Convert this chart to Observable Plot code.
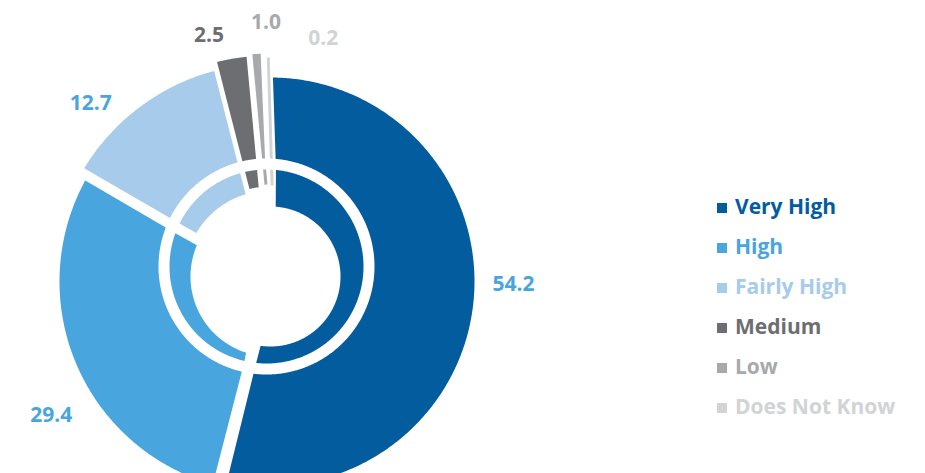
<!DOCTYPE html>
<html>
<head>
<meta charset="utf-8">
<script src="https://cdn.jsdelivr.net/npm/d3@7"></script>
<script src="https://cdn.jsdelivr.net/npm/@observablehq/plot@0.6"></script>
<style>
  html, body { margin: 0; padding: 0; background: #fff; }
  #wrap { position: relative; width: 925px; height: 473px; overflow: hidden; }
  #legend { position: absolute; left: 717px; top: 186px; font-family: "Open Sans", sans-serif; font-weight: 700; font-size: 21px; }
  #legend .row { height: 40px; line-height: 40px; white-space: nowrap; }
  #legend .sw { display: inline-block; width: 10px; height: 10px; margin-right: 8px; vertical-align: 1px; }
</style>
</head>
<body>
<div id="wrap">
  <div id="chart"></div>
  <div id="legend"></div>
</div>
<script>
// ---- data ----
const categories = ["Very High", "High", "Fairly High", "Medium", "Low", "Does Not Know"];
const values = [54.2, 29.4, 12.7, 2.5, 1.0, 0.2];
const colors = ["#035c9e", "#48a5dd", "#a6cbeb", "#6d6e71", "#a7a9ac", "#d1d3d4"];
const labelColors = ["#48a5dd", "#48a5dd", "#48a5dd", "#6d6e71", "#a7a9ac", "#d1d3d4"];

// ---- layout / style ----
const W = 925, H = 473;
const C = [270, 281];            // centre of the slices (px)
const ringC = [266, 266];        // centre of the white separating ring
const ringOuter = 108, ringInner = 97;
const holeC = [270, 276];
const outerR = [204, 211, 218, 226, 228, 224];   // outer radius of each outer slice
const holeR = [70, 80, 86, 90, 92, 91];           // inner radius of each inner slice
const gapAfter = [13, 10, 5, 6, 6, 12];           // white gap after each slice (px)
const minW = 3;
const startDeg = -1;
const labelNudge = [[-5.9, 243], [-8.5, 257], [-8.1, 253], [-4.2, 254], [2.5, 259], [13.6, 249]];

const toRad = d => d * Math.PI / 180, toDeg = r => r * 180 / Math.PI;
const dir = a => [Math.sin(toRad(a)), -Math.cos(toRad(a))];
function hit(a, ctr, R) {
  const [ux, uy] = dir(a);
  const dx = C[0] - ctr[0], dy = C[1] - ctr[1];
  const b = dx * ux + dy * uy;
  return -b + Math.sqrt(b * b - (dx * dx + dy * dy) + R * R);
}
const total = d3.sum(values);
let acc = startDeg;
const slices = values.map((v, i) => {
  const a0 = acc; acc += v / total * 360;
  const prev = (i + values.length - 1) % values.length;
  return {i, cat: categories[i], a0, a1: acc, pl: gapAfter[prev] / 2, pr: gapAfter[i] / 2};
});
function span(sl, r) {
  let s = sl.a0 + toDeg(Math.asin(sl.pl / r)), e = sl.a1 - toDeg(Math.asin(sl.pr / r));
  const minA = toDeg(2 * Math.asin(minW / 2 / r));
  if (e - s < minA) e = s + minA;
  return [s, e];
}
function sector(sl, outerFn, innerFn) {
  const m = (sl.a0 + sl.a1) / 2;
  const [so, eo] = span(sl, outerFn(m));
  const [si, ei] = span(sl, innerFn(m));
  const pts = [];
  const no = Math.max(2, Math.ceil((eo - so) / 0.5));
  for (let k = 0; k <= no; k++) {
    const a = so + (eo - so) * k / no, r = outerFn(a), [ux, uy] = dir(a);
    pts.push({cat: sl.cat, x: C[0] + r * ux, y: C[1] + r * uy});
  }
  const ni = Math.max(2, Math.ceil((ei - si) / 0.5));
  for (let k = ni; k >= 0; k--) {
    const a = si + (ei - si) * k / ni, r = innerFn(a), [ux, uy] = dir(a);
    pts.push({cat: sl.cat, x: C[0] + r * ux, y: C[1] + r * uy});
  }
  return pts;
}
const outerPts = slices.flatMap(sl => sector(sl, a => outerR[sl.i], a => hit(a, ringC, ringOuter)));
const innerPts = slices.flatMap(sl => sector(sl, a => hit(a, ringC, ringInner), a => hit(a, holeC, holeR[sl.i])));

const fmt = d3.format(".1f");
const labelData = slices.map(sl => {
  const [da, r] = labelNudge[sl.i];
  const [ux, uy] = dir((sl.a0 + sl.a1) / 2 + da);
  return {x: C[0] + r * ux, y: C[1] + r * uy, text: fmt(values[sl.i]), color: labelColors[sl.i]};
});

const chart = Plot.plot({
  width: W, height: H, margin: 0,
  style: {background: "white", overflow: "hidden"},
  x: {domain: [0, W], range: [0, W], axis: null},
  y: {domain: [0, H], range: [0, H], axis: null},
  color: {domain: categories, range: colors},
  marks: [
    Plot.line(outerPts, {x: "x", y: "y", z: "cat", fill: "cat", stroke: "none", curve: "linear"}),
    Plot.line(innerPts, {x: "x", y: "y", z: "cat", fill: "cat", stroke: "none", curve: "linear"}),
    ...labelData.map(d => Plot.text([d], {x: "x", y: "y", text: "text", fill: d.color,
      fontSize: 21, fontWeight: 700, fontFamily: "Open Sans", textAnchor: "middle"}))
  ]
});
document.getElementById("chart").appendChild(chart);

const legend = document.getElementById("legend");
categories.forEach((c, i) => {
  const row = document.createElement("div");
  row.className = "row";
  row.style.color = colors[i];
  const sw = document.createElement("span");
  sw.className = "sw";
  sw.style.background = colors[i];
  row.appendChild(sw);
  row.appendChild(document.createTextNode(c));
  legend.appendChild(row);
});
</script>
</body>
</html>
